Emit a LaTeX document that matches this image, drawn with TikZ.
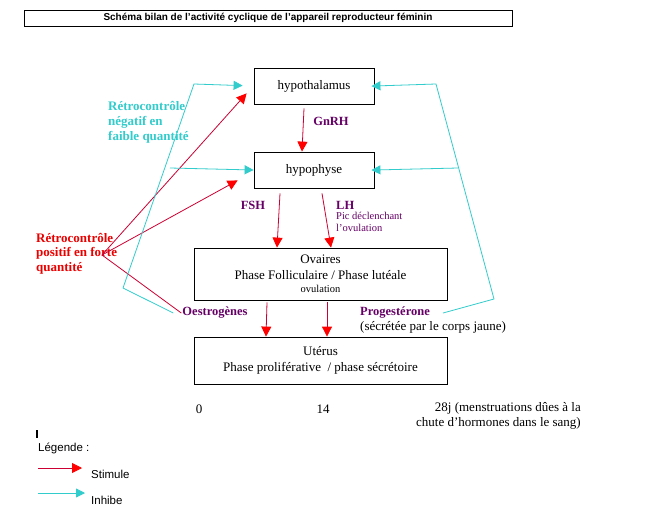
\documentclass[tikz,border=0pt]{standalone}
\usepackage{fontspec}
\setmainfont{Liberation Serif}
\newfontfamily\legendfont{Liberation Sans}
\usetikzlibrary{arrows.meta}
\definecolor{inhibcyan}{RGB}{51,204,204}
\definecolor{stimred}{RGB}{204,0,51}
\definecolor{hormone}{RGB}{102,0,102}
\definecolor{retrored}{RGB}{235,0,0}

\begin{document}
\begin{tikzpicture}[x=1pt,y=-1pt,
  organ/.style={draw,line width=0.8pt,minimum width=120pt,minimum height=36pt,
    inner sep=0pt,align=center,font=\fontsize{13}{16}\selectfont},
  stim/.style={draw=stimred,line width=0.8pt,-{Triangle[length=10pt,width=10pt,red]}},
  inhib/.style={draw=inhibcyan,line width=0.8pt,-{Triangle[length=9pt,width=9pt]}},
  hormlabel/.style={text=hormone,inner sep=1pt,font=\bfseries\fontsize{12.5}{14}\selectfont},
  plain/.style={inner sep=1pt,font=\fontsize{13}{15}\selectfont},
  legend/.style={inner sep=0pt,font=\legendfont\fontsize{11.5}{13}\selectfont}
]
\useasboundingbox[fill=white] (0,0) rectangle (664,514);

% titre
\node[draw,line width=0.8pt,minimum width=488pt,minimum height=16pt,inner sep=0pt,
  font=\legendfont\bfseries\fontsize{10}{12}\selectfont] (titre) at (268,18)
  {Schéma bilan de l’activité cyclique de l’appareil reproducteur féminin};

% organes
\node[organ] (hypothalamus) at (314,86) {hypothalamus};
\node[organ] (hypophyse) at (314,170) {hypophyse};
\node[organ,minimum width=253pt,minimum height=52pt] (ovaires) at (320.5,274)
  {Ovaires\\Phase Folliculaire / Phase lutéale\\[-3pt]{\fontsize{10.5}{12}\selectfont ovulation}};
\node[organ,minimum width=253pt,minimum height=47pt] (uterus) at (320.5,360.5)
  {Utérus\\Phase proliférative \ / phase sécrétoire};

% hormones
\node[hormlabel] (gnrh) at (331,121) {GnRH};
\node[hormlabel] (fsh) at (253,205) {FSH};
\node[hormlabel,anchor=west] (lh) at (335,205) {LH};
\node[anchor=north west,inner sep=1pt,text=hormone,align=left,
  font=\fontsize{10.5}{12}\selectfont] (pic) at (335,211) {Pic déclenchant\\l’ovulation};
\node[hormlabel] (oestro) at (215,313) {Oestrogènes};
\node[hormlabel,anchor=west] (proge) at (359,313) {Progestérone};
\node[plain,anchor=west] (corps) at (359,327) {(sécrétée par le corps jaune)};

% retrocontroles
\node[anchor=north west,inner sep=0pt,align=left,text=inhibcyan,
  font=\bfseries\fontsize{13}{15}\selectfont] (negatif) at (108,101)
  {Rétrocontrôle\\négatif en\\faible quantité};
\node[anchor=north west,inner sep=0pt,align=left,text=retrored,
  font=\bfseries\fontsize{13}{14.5}\selectfont] (positif) at (36,233)
  {Rétrocontrôle\\positif en forte\\quantité};

\coordinate (rp) at (102,255);
\coordinate (nl1) at (123,288);
\coordinate (nl2) at (194,84);
\coordinate (nl3) at (170,168);
\coordinate (nr1) at (494,299);
\coordinate (nr2) at (436,84);
\coordinate (nr3) at (458,168);

% stimulations
\draw[stim] ([xshift=-10pt,yshift=-4pt]hypothalamus.south) -- ([xshift=-12pt]hypophyse.north);
\draw[stim] ([xshift=-34pt,yshift=-5pt]hypophyse.south) -- ([xshift=-43.5pt]ovaires.north);
\draw[stim] ([xshift=8pt,yshift=-5pt]hypophyse.south) -- ([xshift=10.5pt]ovaires.north);
\draw[stim] ([xshift=-53.5pt,yshift=-2pt]ovaires.south) -- ([xshift=-54.5pt]uterus.north);
\draw[stim] ([xshift=6.5pt,yshift=-2pt]ovaires.south) -- ([xshift=6.5pt]uterus.north);
\draw[stim] (rp) -- ([xshift=-7pt,yshift=11pt]hypothalamus.south west);
\draw[stim] (rp) -- ([xshift=-16pt,yshift=8pt]hypophyse.south west);
\draw[draw=stimred,line width=0.8pt] (rp) -- (oestro.west);

% inhibitions
\draw[inhib,shorten >=11pt] ([xshift=-8pt]oestro.west) -- (nl1) -- (nl2) -- (hypothalamus.west);
\draw[inhib] (nl3) -- (hypophyse.west);
\draw[inhib,shorten >=-3pt] ([xshift=12pt]proge.east) -- (nr1) -- (nr2) -- (hypothalamus.east);
\draw[inhib,shorten >=-3pt] (nr3) -- (hypophyse.east);

% jours
\node[plain] (j0) at (199,409) {0};
\node[plain] (j14) at (323,409) {14};
\node[plain,anchor=north east,align=right,font=\fontsize{13}{15}\selectfont] (j28) at (582,401)
  {28j (menstruations dûes à la\\chute d’hormones dans le sang)};

% legende
\draw[line width=2pt] (37,430) -- (37,438);
\node[legend,anchor=west] (legende) at (38,448) {Légende :};
\coordinate (ls1) at (38,468);
\coordinate (ls2) at (82,468);
\coordinate (li1) at (38,493);
\coordinate (li2) at (85,493);
\draw[stim] (ls1) -- (ls2);
\draw[inhib] (li1) -- (li2);
\node[legend,anchor=west] (stimule) at (91,474) {Stimule};
\node[legend,anchor=west] (inhibe) at (91,500) {Inhibe};
\end{tikzpicture}
\end{document}
